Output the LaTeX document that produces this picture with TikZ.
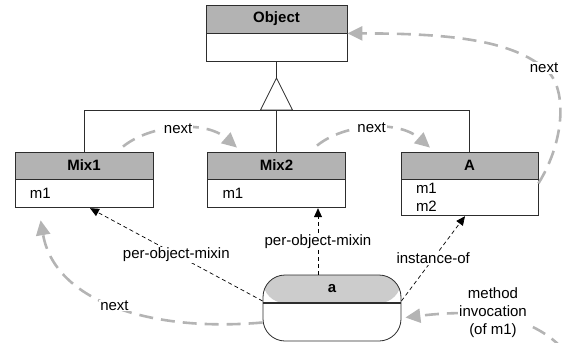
\documentclass[tikz,border=0pt]{standalone}
\usepackage{fontspec}
\setmainfont{Liberation Sans}
\usetikzlibrary{arrows.meta}
\definecolor{hdrgray}{RGB}{179,179,179}
\definecolor{ahdr}{RGB}{204,204,204}
\definecolor{nextgray}{RGB}{180,180,180}
\definecolor{edge}{RGB}{45,45,45}
\newcommand\dfont{\fontsize{15}{18}\selectfont}
\begin{document}
\begin{tikzpicture}[x=1pt,y=-1pt,
  box/.style={draw=edge, line width=0.8pt, inner sep=0pt},
  ln/.style={draw=edge, line width=0.8pt},
  hdr/.style={box, fill=hdrgray, font=\dfont\bfseries, minimum height=27},
  bodyb/.style={box, fill=white, font=\dfont, align=left, inner xsep=15pt, inner ysep=0pt, anchor=north},
  dep/.style={draw=black, line width=0.7pt, dash pattern=on 4pt off 3pt, -{Triangle[length=9pt,width=8pt]}},
  nxt/.style={draw=nextgray, line width=2.6pt, dash pattern=on 14pt off 8pt, -{Triangle[length=15pt,width=14pt]}},
  lbl/.style={font=\dfont, fill=white, inner sep=1pt},
]
\useasboundingbox (0,0) rectangle (563,343);

% classes
\node[hdr, minimum width=141, minimum height=28] (objh) at (276.5,19) {Object};
\node[box, fill=white, minimum width=141, minimum height=28, anchor=north] (objb) at (objh.south) {};

\node[hdr, minimum width=138] (mix1h) at (84,165.5) {Mix1};
\node[bodyb, text width=108pt, minimum height=28] (mix1b) at (mix1h.south) {m1};

\node[hdr, minimum width=138] (mix2h) at (276.5,165.5) {Mix2};
\node[bodyb, text width=108pt, minimum height=28] (mix2b) at (mix2h.south) {m1};

\node[hdr, minimum width=137] (ah) at (469.5,165.5) {A};
\node[bodyb, text width=107pt, minimum height=36] (ab) at (ah.south) {m1\\m2};

% object a
\node[box, fill=white, rounded corners=22pt, minimum width=138, minimum height=66,
  path picture={
    \fill[ahdr] (path picture bounding box.north west) rectangle ([yshift=-28pt]path picture bounding box.north east);
    \draw[edge, line width=1.6pt] ([yshift=-28pt]path picture bounding box.north west) -- ([yshift=-28pt]path picture bounding box.north east);
  }] (a) at (332,308) {};
\node[font=\dfont\bfseries, inner sep=0pt] (alab) at ([yshift=-14pt]a.north) {a};

% inheritance
\coordinate (apex) at (276.5,78);
\coordinate (bar) at (276.5,110);
\draw[ln] (objb.south) -- (apex);
\draw[ln] (apex) -- ([xshift=-16pt]bar) -- ([xshift=16pt]bar) -- cycle;
\draw[ln] (mix1h.north) |- (ah.north |- bar) -- (ah.north);
\draw[ln] (mix2h.north) -- (mix2h.north |- bar);

% dependency arrows
\draw[dep] ([yshift=7pt]a.west) -- ([xshift=6pt]mix1b.south) node[lbl, pos=0.5] (l1) {per-object-mixin};
\draw[dep] ([xshift=-14pt]a.north) -- ([xshift=-14pt]a.north |- mix2b.south) node[lbl, pos=0.5] (l2) {per-object-mixin};
\draw[dep] ([yshift=7pt]a.east) -- ([xshift=-4.5pt]ab.south) node[lbl, pos=0.5] (l3) {instance-of};

% next arrows
\draw[nxt] ([shift={(39pt,5pt)}]mix1h.north) .. controls +(27pt,22pt) and +(-32pt,28pt) .. ([shift={(-39.5pt,4pt)}]mix2h.north) node[lbl, pos=0.5] (n1) {next};
\draw[nxt] ([shift={(40.5pt,6pt)}]mix2h.north) .. controls +(27pt,22pt) and +(-32pt,28pt) .. ([shift={(-39.5pt,4pt)}]ah.north) node[lbl, pos=0.5] (n2) {next};
\coordinate (wA) at (544,68);
\draw[nxt] ([yshift=-4pt]ab.north east) .. controls +(27pt,43pt) and +(24pt,-17pt) .. (wA) .. controls +(-34pt,28pt) and +(102pt,0pt) .. (objh.south east);
\node[lbl] (n3) at (wA) {next};
\draw[nxt] ([yshift=-14.5pt]a.west) .. controls +(-113pt,-10pt) and +(14pt,-81pt) .. ([shift={(26pt,-12pt)}]mix1b.south west) node[lbl, pos=0.5] (n4) {next};

% method invocation
\coordinate (mstart) at (562,348);
\draw[nxt] (mstart) .. controls +(-32pt,33pt) and +(75pt,9pt) .. ([shift={(4pt,-9.5pt)}]a.east);
\node[lbl, align=center] (minv) at (493,313) {method\\invocation\\(of m1)};
\end{tikzpicture}
\end{document}
